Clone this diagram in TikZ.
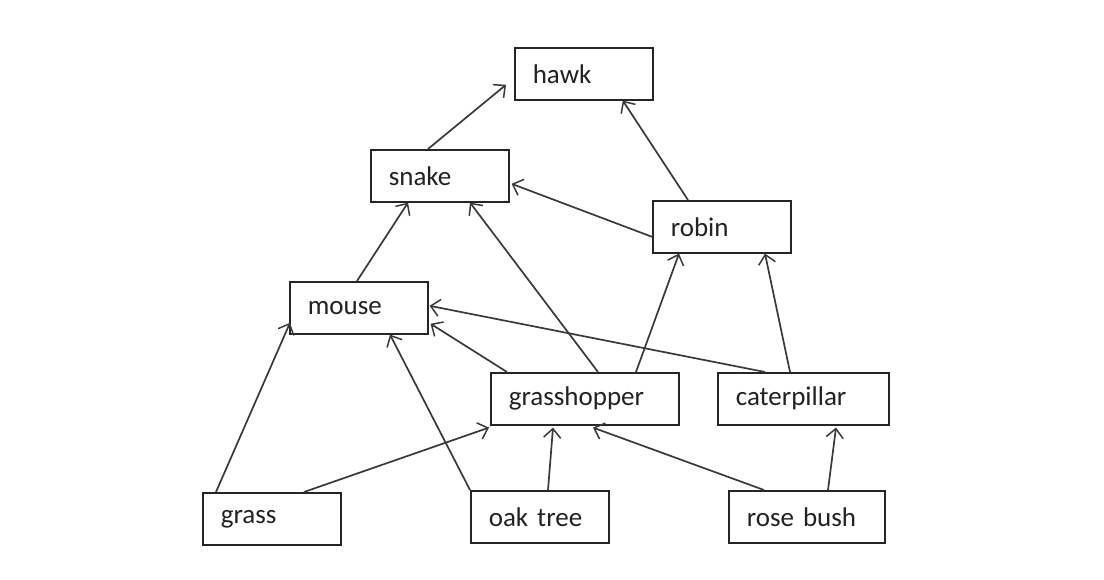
\documentclass[tikz,border=0pt]{standalone}
\usepackage{fontspec}
\setmainfont{Carlito}
\usetikzlibrary{arrows.meta}
\definecolor{ln}{HTML}{3A3A3A}
\definecolor{tx}{HTML}{222222}
\begin{document}
\begin{tikzpicture}[x=1pt,y=-1pt,
  box/.style={draw=black!85,line width=1.6pt,fill=white,minimum height=52pt,
    inner xsep=18pt,inner ysep=0pt,align=left,text=tx,
    font=\fontsize{27}{29}\selectfont,anchor=north west},
  link/.style={draw=ln,line width=1.7pt,-{Straight Barb[length=9pt,width=17pt,line width=1.5pt]}}]
\useasboundingbox[fill=white] (0,0) rectangle (1104,580);
\node[box,text width=102pt] (hawk) at (514,47) {hawk};
\node[box,text width=102pt] (snake) at (370,149) {snake};
\node[box,text width=102pt] (robin) at (652,200) {robin};
\node[box,text width=102pt] (mouse) at (289,281) {mouse};
\node[box,text width=152pt] (grasshopper) at (490,372) {grasshopper};
\node[box,text width=135pt] (caterpillar) at (717,372) {caterpillar};
\node[box,text width=102pt] (grass) at (202,492) {grass};
\node[box,text width=102pt] (oak) at (470,490) {oak tree};
\node[box,text width=120pt] (rose) at (728,490) {rose bush};

\draw[link] ([xshift=58pt]snake.north west) -- ([xshift=-8pt,yshift=-11pt]hawk.west);
\draw[link] ([xshift=36pt]robin.north west) -- ([xshift=39pt]hawk.south);
\draw[link] ([yshift=-10pt]robin.west) -- ([xshift=2pt,yshift=-8pt]snake.east);
\draw[link] ([xshift=68pt]mouse.north west) -- ([xshift=38pt]snake.south west);
\draw[link] ([xshift=108pt]grasshopper.north west) -- ([xshift=100pt]snake.south west);
\draw[link] ([xshift=146pt]grasshopper.north west) -- ([xshift=27pt]robin.south west);
\draw[link] ([xshift=73pt]caterpillar.north west) -- ([xshift=113pt]robin.south west);
\draw[link] ([xshift=48pt]caterpillar.north west) -- ([xshift=1pt,yshift=2pt]mouse.east);
\draw[link] ([xshift=17pt]grasshopper.north west) -- ([xshift=2pt,yshift=-16pt]mouse.east);
\draw[link] ([xshift=14pt]grass.north west) -- ([xshift=1pt,yshift=-15pt]mouse.west);
\draw[link] (oak.north west) -- ([xshift=101pt]mouse.south west);
\draw[link] ([xshift=102pt]grass.north west) -- ([xshift=-1pt,yshift=-2pt]grasshopper.south west);
\draw[link] ([xshift=78pt]oak.north west) -- ([xshift=63pt,yshift=-2pt]grasshopper.south west);
\draw[link] ([xshift=36pt]rose.north west) -- ([xshift=103pt,yshift=-2pt]grasshopper.south west);
\draw[link] ([xshift=100pt]rose.north west) -- ([xshift=119pt,yshift=-2pt]caterpillar.south west);
\end{tikzpicture}
\end{document}
